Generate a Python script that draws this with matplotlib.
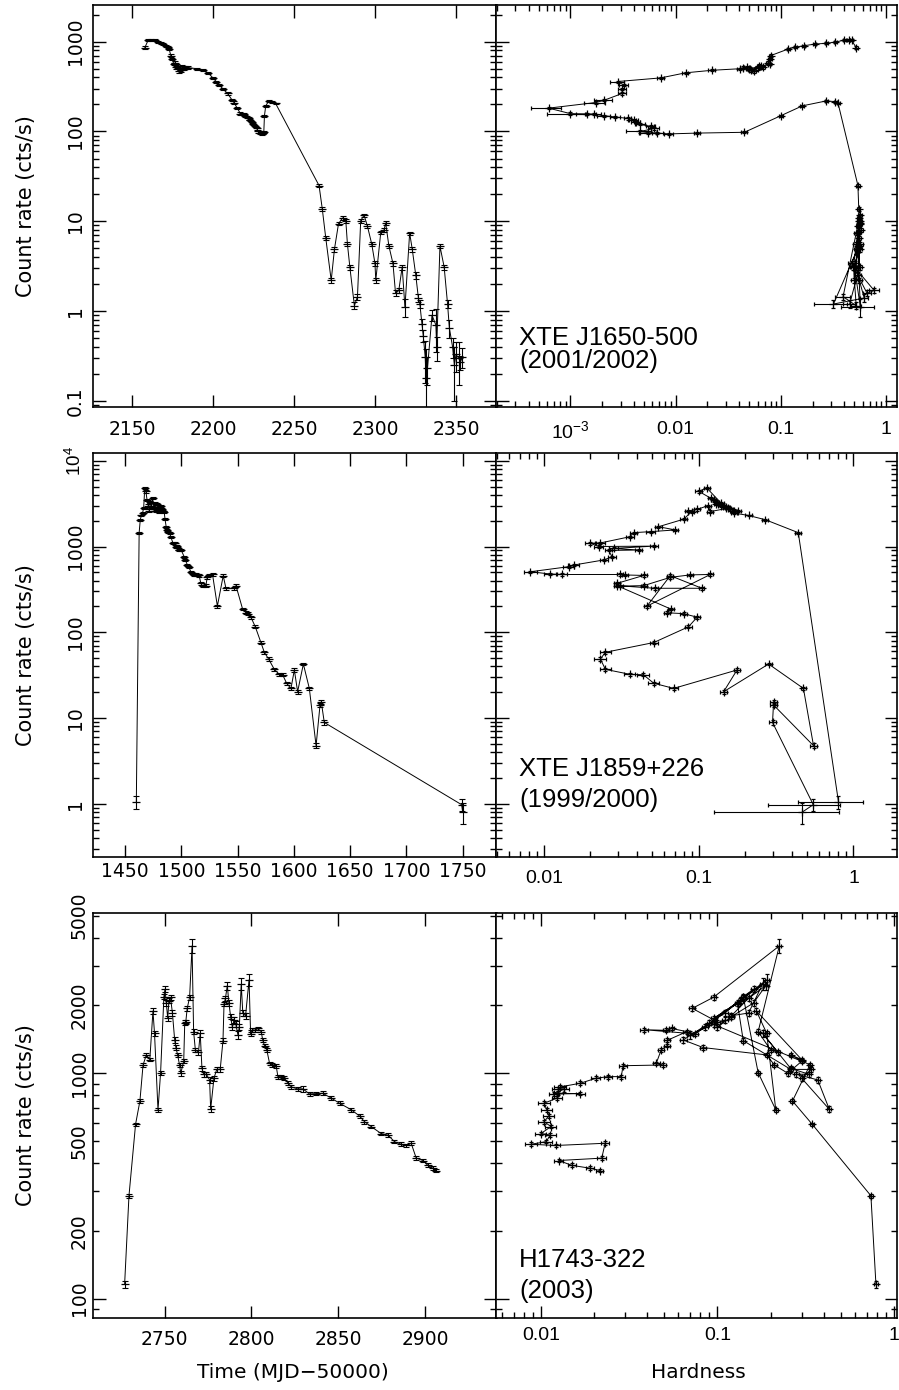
import matplotlib
matplotlib.use("Agg")
import matplotlib.pyplot as plt
import numpy as np
from matplotlib.ticker import LogLocator, FuncFormatter, MultipleLocator, NullLocator

plt.rcParams["font.family"] = ["DejaVu Sans"]
plt.rcParams["mathtext.fontset"] = "custom"
plt.rcParams["mathtext.rm"] = "Liberation Sans"
plt.rcParams["mathtext.it"] = "Liberation Sans:italic"

nan = np.nan

# ---------------- XTE J1650-500 (2001/2002) ----------------
t1 = [2158, 2160, 2162, 2164, 2166, 2168, 2169.5, 2171, 2172, 2173,
      2174, 2175, 2175.8, 2176.5, 2177.2, 2178, 2178.8, 2179.6, 2180.4, 2181.2,
      2182, 2183, 2184.5, 2190, 2194, 2197, 2200, 2202, 2204, 2206,
      2209, 2212, 2213, 2215, 2217, 2218, 2219, 2220, 2221, 2222,
      2223, 2224, 2225, 2226, 2227, 2228, 2229, 2230, 2230.5, 2231,
      2231.4, 2231.8, 2232.6, 2234.5, 2236.5, 2238.7, 2265.5, 2267.5, 2269.6, 2273,
      2275, 2277.5, 2280, 2282, 2283, 2284.5, 2287.3, 2289.2, 2291.2, 2293.3,
      2295.3, 2298, 2300, 2300.5, 2303.6, 2305.6, 2306.6, 2308.6, 2311.1, 2312.7,
      2314.7, 2316.8, 2318.5, 2321.4, 2323, 2325.2, 2326.8, 2327.7, 2329, 2329.8,
      2331, 2331.5, 2332.4, 2335.2, 2337.6, 2338.1, 2340.1, 2342.7, 2344.8, 2345.9,
      2347.9, 2349, 2350, 2351.6, 2352.7, 2354]
rate1 = [860, 1035, 1050, 1040, 990, 960, 940, 900, 870, 830,
         700, 640, 565, 580, 520, 540, 470, 510, 480, 530,
         500, 520, 515, 500, 480, 450, 395, 360, 330, 300,
         265, 222, 210, 182, 158, 157, 156, 150, 145, 140,
         135, 128, 120, 114, 108, 100, 97, 96, 94, 96,
         98, 150, 193, 219, 215, 205, 25, 13.7, 6.6, 2.2,
         4.9, 9.4, 10.9, 10.2, 5.6, 3.1, 1.15, 1.45, 10.2, 11.7,
         8.9, 5.6, 3.4, 2.2, 7.6, 8.0, 9.6, 5.3, 3.4, 1.58,
         1.7, 3.1, 1.1, 7.4, 4.9, 2.5, 1.40, 1.2, 0.72, 0.53,
         0.31, 0.18, 0.23, 0.90, 0.70, 0.40, 5.3, 3.1, 1.2, 0.65,
         0.40, 0.25, 0.33, 0.30, 0.27, 0.31]
err1 = [40, 30, 30, 25, 25, 25, 25, 25, 25, 25,
        20, 18, 16, 30, 25, 30, 25, 25, 25, 25,
        20, 20, 15, 12, 12, 12, 10, 9, 8, 8,
        7, 6, 6, 5, 5, 4, 4, 4, 4, 4,
        4, 4, 3, 3, 3, 3, 3, 3, 3, 3,
        3, 4, 5, 6, 5, 5, 1.0, 0.6, 0.35, 0.15,
        0.3, 0.4, 0.5, 0.5, 0.3, 0.2, 0.1, 0.12, 0.5, 0.5,
        0.4, 0.3, 0.2, 0.15, 0.3, 0.4, 0.4, 0.3, 0.2, 0.12,
        0.1, 0.2, 0.25, 0.3, 0.3, 0.2, 0.15, 0.12, 0.1, 0.08,
        0.15, 0.2, 0.08, 0.12, 0.35, 0.12, 0.3, 0.2, 0.12, 0.15,
        0.1, 0.15, 0.12, 0.15, 0.05, 0.08]
hard1 = [0.52, 0.47, 0.44, 0.40, 0.33, 0.27, 0.21, 0.165, 0.137, 0.118,
         0.080, 0.079, 0.078, 0.075, 0.068, 0.062, 0.055, 0.060, 0.052, 0.065,
         0.050, 0.048, 0.044, 0.041, 0.022, 0.0124, 0.0072, 0.0028, 0.0032, 0.0031,
         0.0031, 0.00207, 0.00173, 0.00062, 0.0010, 0.00144, 0.00166, 0.00207, 0.00267, 0.0035,
         0.0040, 0.0042, 0.0046, 0.0058, 0.0062, 0.0046, 0.0055, 0.0067, 0.0086, 0.016,
         0.045, 0.10, 0.16, 0.27, 0.33, 0.35, 0.54, 0.55, 0.55, 0.50,
         0.53, 0.56, 0.55, 0.57, 0.52, 0.49, 0.52, 0.39, 0.55, 0.56,
         0.54, 0.57, 0.51, 0.55, 0.55, 0.58, 0.56, 0.55, 0.47, 0.66,
         0.77, 0.50, 0.57, 0.53, 0.56, 0.54, 0.62, 0.316, nan, nan,
         nan, nan, nan, nan, nan, nan, 0.55, 0.56, 0.45, nan,
         nan, nan, nan, nan, nan, nan]
herr1 = [0.015, 0.014, 0.013, 0.012, 0.010, 0.008, 0.007, 0.006, 0.005, 0.004,
         0.003, 0.003, 0.003, 0.003, 0.003, 0.003, 0.003, 0.003, 0.003, 0.003,
         0.003, 0.003, 0.003, 0.003, 0.0015, 0.0008, 0.0005, 0.0004, 0.0003, 0.0003,
         0.0003, 0.0004, 0.0004, 0.0002, 0.0004, 0.0003, 0.0003, 0.0003, 0.0003, 0.0003,
         0.0004, 0.0004, 0.0005, 0.0006, 0.0008, 0.0012, 0.0010, 0.0008, 0.0008, 0.0012,
         0.003, 0.005, 0.007, 0.01, 0.012, 0.012, 0.02, 0.02, 0.025, 0.04,
         0.03, 0.025, 0.025, 0.025, 0.03, 0.04, 0.06, 0.06, 0.025, 0.025,
         0.025, 0.03, 0.035, 0.04, 0.03, 0.03, 0.025, 0.03, 0.04, 0.06,
         0.08, 0.04, 0.2, 0.03, 0.03, 0.04, 0.05, 0.11, 0, 0,
         0, 0, 0, 0, 0, 0, 0.03, 0.035, 0.06, 0,
         0, 0, 0, 0, 0, 0]

# ---------------- XTE J1859+226 (1999/2000) ----------------
t2 = [1460, 1462.5, 1463.5, 1464.5, 1465.5, 1466.5, 1467.5, 1468.5, 1469.5, 1470.5,
      1471.5, 1472.5, 1473.5, 1474.5, 1475.5, 1476.5, 1477.5, 1478.5, 1479.5, 1480.5,
      1481.5, 1482.5, 1483.5, 1484.7, 1485.5, 1486.5, 1487.6, 1488.5, 1489.5, 1490.6,
      1492.5, 1494, 1495, 1496, 1497, 1498, 1500, 1502.5, 1503.5, 1505.4,
      1506.5, 1508.4, 1510, 1511.5, 1513, 1514.5, 1515.8, 1517.3, 1519, 1521.8,
      1523, 1525, 1527.7, 1532, 1537.2, 1539.6, 1547, 1548.5, 1554.4, 1557.4,
      1559.5, 1561.8, 1565.7, 1570.7, 1573.7, 1577.5, 1582.6, 1587, 1590, 1593.5,
      1597.4, 1600.4, 1603.3, 1608.4, 1613.7, 1619.7, 1623.2, 1624.3, 1627, 1749,
      1750]
rate2 = [1.06, 1450, 2050, 2300, 2450, 2800, 4800, 4400, 3500, 3000,
         2600, 3300, 2900, 3700, 2700, 3200, 2600, 3100, 2800, 2550,
         3000, 2700, 2600, 2545, 2080, 1700, 1560, 1490, 1450, 1300,
         1100, 1090, 1000, 1010, 950, 910, 900, 760, 697, 608,
         582, 508, 478, 472, 472, 466, 460, 372, 345, 350,
         437, 467, 472, 202, 457, 326, 326, 350, 187, 169,
         165, 150, 116, 76, 58.5, 48.9, 37, 32.4, 32, 25.5,
         22.2, 36.4, 20.3, 42.7, 22.2, 4.77, 14.2, 15.5, 8.9, 0.98,
         0.80]
err2 = [0.18, 40, 50, 50, 60, 60, 150, 150, 120, 100,
        100, 100, 90, 100, 90, 90, 80, 90, 80, 80,
        80, 80, 80, 80, 60, 50, 50, 45, 45, 40,
        35, 35, 30, 30, 30, 30, 25, 25, 20, 18,
        18, 15, 15, 15, 15, 15, 15, 12, 12, 12,
        14, 15, 15, 8, 15, 12, 12, 12, 7, 6,
        6, 6, 5, 3, 2.5, 2, 1.5, 1.2, 1.2, 1.0,
        1.0, 1.5, 1.0, 1.5, 1.0, 0.3, 0.8, 0.8, 0.5, 0.15,
        0.22]
hard2 = [0.80, 0.44, 0.27, 0.21, 0.17, 0.15, 0.113, 0.10, 0.125, 0.139,
         0.17, 0.13, 0.15, 0.12, 0.16, 0.14, 0.18, 0.13, 0.155, 0.119,
         0.115, 0.0978, 0.086, 0.09, 0.08, 0.055, 0.0708, 0.049, 0.038, 0.036,
         0.0232, 0.020, 0.0226, 0.0513, 0.0283, 0.041, 0.0262, 0.0276, 0.0244, 0.0156,
         0.0145, 0.0082, 0.011, 0.0131, 0.031, 0.0336, 0.0442, 0.0297, 0.031, 0.0442,
         0.0656, 0.0883, 0.119, 0.0464, 0.0656, 0.105, 0.052, 0.0297, 0.066, 0.0625,
         0.08, 0.0978, 0.086, 0.0513, 0.025, 0.0232, 0.025, 0.036, 0.044, 0.0513,
         0.069, 0.177, 0.145, 0.283, 0.475, 0.552, 0.305, 0.305, 0.30, 0.55,
         0.465]
herr2 = [0.36, 0.02, 0.012, 0.01, 0.008, 0.006, 0.005, 0.005, 0.005, 0.005,
         0.006, 0.005, 0.006, 0.005, 0.006, 0.006, 0.007, 0.005, 0.006, 0.005,
         0.005, 0.004, 0.004, 0.004, 0.004, 0.003, 0.003, 0.003, 0.002, 0.002,
         0.0015, 0.0015, 0.0015, 0.003, 0.002, 0.002, 0.0015, 0.0015, 0.0015, 0.0012,
         0.0012, 0.0008, 0.001, 0.001, 0.0015, 0.0015, 0.002, 0.0015, 0.0015, 0.002,
         0.003, 0.004, 0.004, 0.002, 0.003, 0.004, 0.003, 0.0015, 0.003, 0.003,
         0.004, 0.004, 0.004, 0.003, 0.002, 0.002, 0.002, 0.003, 0.004, 0.004,
         0.005, 0.008, 0.008, 0.015, 0.02, 0.03, 0.015, 0.015, 0.015, 0.27,
         0.34]

# ---------------- H1743-322 (2003) ----------------
t3 = [2727, 2729.5, 2733.3, 2735.8, 2737.6, 2739.5, 2741.5, 2743.3, 2744.2, 2746.2,
      2747.7, 2749.6, 2750.2, 2751, 2751.8, 2752.5, 2753.4, 2754.5, 2755.8, 2756.5,
      2757.5, 2758.6, 2759.3, 2761, 2761.6, 2762.2, 2763, 2764.4, 2765.8, 2766.7,
      2767.7, 2769.5, 2770.5, 2771.5, 2772.5, 2774, 2775.9, 2776.5, 2778.4, 2780,
      2782, 2783.6, 2784.2, 2785, 2786.1, 2787, 2788, 2789, 2790, 2791,
      2792.2, 2793, 2794.1, 2795, 2796.6, 2798.6, 2799.5, 2800.5, 2802, 2803.5,
      2805.6, 2806.5, 2807.5, 2808.8, 2810.4, 2812, 2814.2, 2815.2, 2817.1, 2819,
      2821, 2822.9, 2826.7, 2829.6, 2833.4, 2837, 2841, 2846, 2850.7, 2857.5,
      2862.2, 2865, 2868.9, 2874.6, 2878.5, 2882.3, 2886.2, 2889, 2891.9, 2894.8,
      2898.7, 2901.5, 2904.4, 2906.4]
rate3 = [116, 286, 594, 753, 1088, 1206, 1150, 1890, 1505, 688,
         1006, 2188, 2360, 2050, 1750, 2100, 2170, 1850, 1405, 1300,
         1206, 1088, 1000, 1130, 1677, 1690, 1940, 2174, 3673, 1530,
         1269, 1240, 1505, 1050, 990, 990, 934, 692, 950, 1040,
         1040, 1395, 2028, 2150, 2450, 2050, 1784, 1600, 1720, 1650,
         1480, 1600, 2483, 1850, 1800, 2596, 1494, 1560, 1550, 1580,
         1530, 1400, 1326, 1270, 1107, 1088, 1080, 966, 966, 950,
         903, 870, 852, 852, 809, 812, 815, 775, 736, 688,
         646, 610, 580, 540, 532, 497, 484, 478, 489, 420,
         410, 390, 379, 370]
err3 = [4, 6, 10, 12, 20, 20, 20, 50, 40, 15,
        20, 60, 70, 60, 50, 60, 60, 50, 40, 35,
        30, 25, 25, 25, 40, 40, 50, 60, 250, 40,
        30, 30, 50, 25, 25, 25, 25, 20, 25, 25,
        25, 35, 50, 60, 100, 60, 50, 50, 50, 50,
        60, 50, 150, 60, 60, 150, 30, 30, 30, 30,
        30, 30, 25, 25, 20, 20, 20, 20, 20, 20,
        18, 18, 16, 25, 15, 15, 15, 14, 14, 12,
        12, 12, 10, 10, 10, 9, 9, 9, 9, 8,
        8, 8, 7, 7]
hard3 = [0.79, 0.74, 0.344, 0.266, 0.334, 0.26, 0.30, 0.166, 0.19, 0.214,
         0.17, 0.14, 0.16, 0.13, 0.095, 0.135, 0.14, 0.11, 0.064, 0.083,
         0.19, 0.21, 0.25, 0.30, 0.09, 0.10, 0.072, 0.095, 0.224, 0.17,
         0.20, 0.22, 0.18, 0.26, 0.33, 0.28, 0.37, 0.43, 0.30, 0.34,
         0.26, 0.14, 0.13, 0.15, 0.188, 0.16, 0.12, 0.10, 0.11, 0.095,
         0.07, 0.085, 0.18, 0.15, 0.12, 0.19, 0.075, 0.0386, 0.051, 0.055,
         0.067, 0.052, 0.052, 0.048, 0.045, 0.049, 0.0292, 0.0285, 0.024, 0.0205,
         0.0167, 0.0129, 0.0125, 0.0135, 0.0119, 0.0167, 0.0125, 0.0123, 0.0104, 0.0108,
         0.0111, 0.0104, 0.0114, 0.0100, 0.0113, 0.0107, 0.00879, 0.0121, 0.0231, 0.0221,
         0.0126, 0.0150, 0.019, 0.0216]
herr3 = [0.02, 0.02, 0.008, 0.007, 0.008, 0.006, 0.007, 0.005, 0.005, 0.006,
         0.005, 0.004, 0.005, 0.004, 0.003, 0.004, 0.004, 0.004, 0.003, 0.003,
         0.005, 0.006, 0.007, 0.008, 0.003, 0.003, 0.003, 0.003, 0.006, 0.005,
         0.006, 0.006, 0.005, 0.007, 0.008, 0.008, 0.009, 0.01, 0.008, 0.008,
         0.007, 0.004, 0.004, 0.004, 0.005, 0.005, 0.004, 0.004, 0.004, 0.003,
         0.003, 0.003, 0.005, 0.004, 0.004, 0.005, 0.003, 0.002, 0.002, 0.002,
         0.003, 0.002, 0.002, 0.002, 0.002, 0.002, 0.0015, 0.0015, 0.0012, 0.0012,
         0.001, 0.001, 0.001, 0.001, 0.0008, 0.001, 0.0008, 0.0008, 0.0008, 0.0008,
         0.0008, 0.0008, 0.0008, 0.0007, 0.0008, 0.0008, 0.0007, 0.0008, 0.0012, 0.0012,
         0.0008, 0.0008, 0.001, 0.001]

names = [("XTE J1650-500", "(2001/2002)"),
         ("XTE J1859+226", "(1999/2000)"),
         ("H1743-322", "(2003)")]


def labels(mapping):
    def f(v, pos):
        for k, s in mapping.items():
            if np.isclose(v, k, rtol=1e-6):
                return s
        return ""
    return FuncFormatter(f)


def frame(ax):
    for s in ax.spines.values():
        s.set_linewidth(1.2)
    ax.tick_params(which="both", direction="in", top=True, right=True,
                   width=1.0, color="k")
    ax.tick_params(which="major", length=9)
    ax.tick_params(which="minor", length=4.5)


def log_y(ax):
    ax.set_yscale("log")
    ax.yaxis.set_major_locator(LogLocator(base=10, numticks=30))
    ax.yaxis.set_minor_locator(LogLocator(base=10, subs=np.arange(2, 10), numticks=30))


def light_curve(ax, t, r, e):
    ax.plot(t, r, color="k", lw=0.7)
    ax.errorbar(t, r, yerr=e, fmt="none", ecolor="k", elinewidth=0.8,
                capsize=2.5, capthick=0.8)
    ax.plot(t, r, ls="none", marker="_", ms=6, mew=0.9, color="k")


def hid(ax, h, r, he, re):
    h, r, he, re = map(np.asarray, (h, r, he, re))
    ok = ~np.isnan(h)
    ax.errorbar(h[ok], r[ok], xerr=he[ok], yerr=re[ok], fmt="-", color="k",
                lw=0.7, elinewidth=0.8, capsize=1.5, capthick=0.8,
                marker="+", ms=6, mew=0.9)


fig = plt.figure(figsize=(8.99, 13.9), dpi=100)

L, M, R = 93 / 899, 496.5 / 899, 897 / 899
rows = [(0.7072, 0.2892), (0.3837, 0.2902), (0.0516, 0.2918)]

lc_data = [(t1, rate1, err1), (t2, rate2, err2), (t3, rate3, err3)]
hid_data = [(hard1, rate1, herr1, err1), (hard2, rate2, herr2, err2),
            (hard3, rate3, herr3, err3)]
xlims_lc = [(2126, 2375), (1421.5, 1780), (2708.8, 2941)]
xlims_hid = [(1.98e-4, 1.27), (0.00495, 1.91), (0.0056, 1.04)]
ylims = [(0.0857, 2560), (0.243, 12200), (81.8, 5158)]
lc_xpad = [9.5, 3.6, 8.4]
hid_xpad = [9.8, 9.6, 6.0]
ypad = [5.8, 5.8, 3.0]
text_y = [(0.154, 0.096), (0.200, 0.124), (0.127, 0.049)]

for i, (b, hgt) in enumerate(rows):
    axl = fig.add_axes([L, b, M - L, hgt])
    axr = fig.add_axes([M, b, R - M, hgt])

    # light curve
    log_y(axl)
    light_curve(axl, *lc_data[i])
    axl.set_xlim(*xlims_lc[i])
    axl.set_ylim(*ylims[i])
    axl.xaxis.set_major_locator(MultipleLocator(50))
    axl.xaxis.set_minor_locator(NullLocator())
    frame(axl)
    if i == 0:
        axl.yaxis.set_major_formatter(labels({0.1: "0.1", 1: "1", 10: "10",
                                              100: "100", 1000: "1000"}))
    elif i == 1:
        axl.yaxis.set_major_formatter(labels({1: "1", 10: "10", 100: "100",
                                              1000: "1000", 1e4: "$10^4$"}))
    else:
        axl.yaxis.set_major_formatter(labels({100: "100", 1000: "1000"}))
        axl.yaxis.set_minor_formatter(labels({200: "200", 500: "500",
                                              2000: "2000", 5000: "5000"}))
    axl.tick_params(axis="y", which="both", labelrotation=90, pad=ypad[i],
                    labelsize=13.5)
    axl.tick_params(axis="x", which="both", pad=lc_xpad[i], labelsize=13.5)
    plt.setp(axl.get_yticklabels(which="both"), va="center")

    # hardness-intensity diagram
    axr.set_xscale("log")
    log_y(axr)
    hid(axr, *hid_data[i])
    axr.set_xlim(*xlims_hid[i])
    axr.set_ylim(*ylims[i])
    axr.xaxis.set_major_locator(LogLocator(base=10, numticks=30))
    axr.xaxis.set_minor_locator(LogLocator(base=10, subs=np.arange(2, 10), numticks=30))
    axr.xaxis.set_major_formatter(labels({1e-3: "$10^{-3}$", 0.01: "0.01",
                                          0.1: "0.1", 1: "1"}))
    frame(axr)
    axr.tick_params(axis="y", which="both", labelleft=False)
    axr.tick_params(axis="x", which="both", pad=hid_xpad[i], labelsize=14,
                    labelfontfamily="Liberation Sans")

    top, bottom = names[i]
    axr.text(0.057, text_y[i][0], top, transform=axr.transAxes,
             fontfamily="Liberation Sans", fontsize=18.5, va="baseline")
    axr.text(0.057, text_y[i][1], bottom, transform=axr.transAxes,
             fontfamily="Liberation Sans", fontsize=18.5, va="baseline")

    fig.text(26 / 899, b + hgt / 2, "Count rate (cts/s)", rotation=90,
             ha="center", va="center", fontsize=15)

fig.text(293 / 899, 1 - 1372 / 1390, "Time (MJD\u221250000)", ha="center",
         va="center", fontsize=14.5)
fig.text(698 / 899, 1 - 1372 / 1390, "Hardness", ha="center", va="center",
         fontsize=14.5)

fig.savefig("out.png", dpi=100)
